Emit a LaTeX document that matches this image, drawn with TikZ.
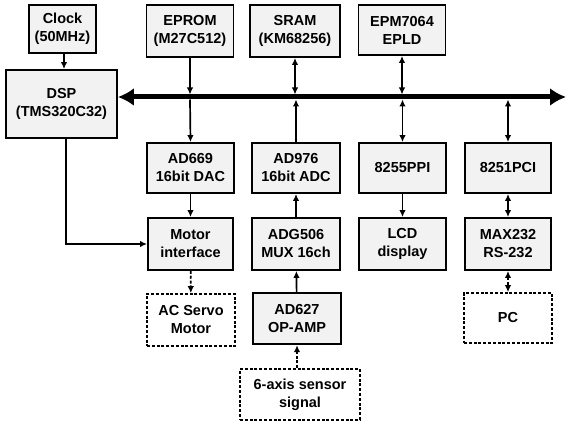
\documentclass[tikz,border=0pt]{standalone}
\usepackage{fontspec}
\setmainfont{Liberation Sans}
\usetikzlibrary{arrows.meta}
\begin{document}
\begin{tikzpicture}[x=1pt,y=-1pt,
  blk/.style={draw=black,line width=1.9pt,fill=black!5,align=center,inner sep=0pt,
    font=\fontsize{14.5}{18}\selectfont\bfseries,minimum width=87pt,minimum height=51pt},
  dblk/.style={blk,fill=white,dash pattern=on 3pt off 1.8pt,line width=1.7pt},
  arr/.style={line width=1.7pt,-{Latex[length=7pt,width=6.5pt]}},
  darr/.style={line width=1.7pt,{Latex[length=7pt,width=6.5pt]}-{Latex[length=7pt,width=6.5pt]}},
  dsharr/.style={arr,dash pattern=on 3pt off 1.8pt},
  dshdarr/.style={darr,dash pattern=on 3pt off 1.8pt},
  bus/.style={line width=5pt,{Latex[length=16pt,width=18pt]}-{Latex[length=16pt,width=18pt]}}]
\useasboundingbox (0,0) rectangle (566,422);
% top row
\node[blk,minimum width=67pt,minimum height=48pt] (clk) at (62.5,29) {Clock\\(50MHz)};
\node[blk,minimum width=111pt,minimum height=68pt] (dsp) at (61.5,104) {DSP\\(TMS320C32)};
\node[blk,minimum height=52pt] (eprom) at (190,31) {EPROM\\(M27C512)};
\node[blk,minimum width=90pt,minimum height=52pt] (sram) at (295,31) {SRAM\\(KM68256)};
\node[blk,minimum height=50pt] (epld) at (402,30) {EPM7064\\EPLD};
% second row
\node[blk,minimum height=50pt] (dac) at (190.5,168) {AD669\\16bit DAC};
\node[blk,minimum width=88pt,minimum height=50pt] (adc) at (296,168) {AD976\\16bit ADC};
\node[blk,minimum height=50pt] (ppi) at (402.5,168) {8255PPI};
\node[blk,minimum width=86pt,minimum height=50pt] (pci) at (508,168) {8251PCI};
% third row
\node[blk,minimum width=85pt,minimum height=52pt] (mot) at (190.5,244) {Motor\\interface};
\node[blk,minimum width=88pt,minimum height=52pt] (mux) at (296,244) {ADG506\\MUX 16ch};
\node[blk,minimum height=52pt] (lcd) at (402.5,244) {LCD\\display};
\node[blk,minimum width=86pt,minimum height=52pt] (max) at (508,244) {MAX232\\RS-232};
% fourth row
\node[dblk,minimum width=88pt,minimum height=52pt] (servo) at (191,320) {AC Servo\\Motor};
\node[blk,minimum width=88pt,minimum height=51pt,line width=2.3pt] (amp) at (297,318.5) {AD627\\OP-AMP};
\node[dblk,minimum width=88pt,minimum height=50pt] (pc) at (508,318) {PC};
\node[dblk,minimum width=120pt,minimum height=51pt] (sens) at (300,394.5) {6-axis sensor\\signal};
% bus
\coordinate (busL) at (dsp.east |- 0,97);
\coordinate (busR) at (566,97);
\coordinate (busT) at (0,94.5);
\coordinate (busB) at (0,99.5);
\draw[bus] (busL) -- (busR);
% bus connections
\draw[arr] (eprom.south) -- (eprom.south |- busT);
\draw[arr] (eprom.south |- busB) -- (dac.north);
\draw[darr] (sram.south) -- (sram.south |- busT);
\draw[arr] (adc.north) -- (adc.north |- busB);
\draw[darr] (epld.south) -- (epld.south |- busT);
\draw[darr] (ppi.north |- busB) -- (ppi.north);
\draw[darr] (pci.north |- busB) -- (pci.north);
% other connections
\coordinate (ck) at (64,0);
\draw[arr] (clk.south -| ck) -- (dsp.north -| ck);
\coordinate (dd) at (66,0);
\draw[arr] (dsp.south -| dd) |- (mot.west);
\draw[arr] (dac) -- (mot);
\draw[arr] (mux) -- (adc);
\draw[arr] (amp) -- (mux);
\draw[arr] (ppi) -- (lcd);
\draw[darr] (pci) -- (max);
\draw[dsharr] (mot) -- (servo);
\draw[dsharr] (sens.north -| amp) -- (amp.south);
\draw[dshdarr] (max) -- (pc);
\end{tikzpicture}
\end{document}
